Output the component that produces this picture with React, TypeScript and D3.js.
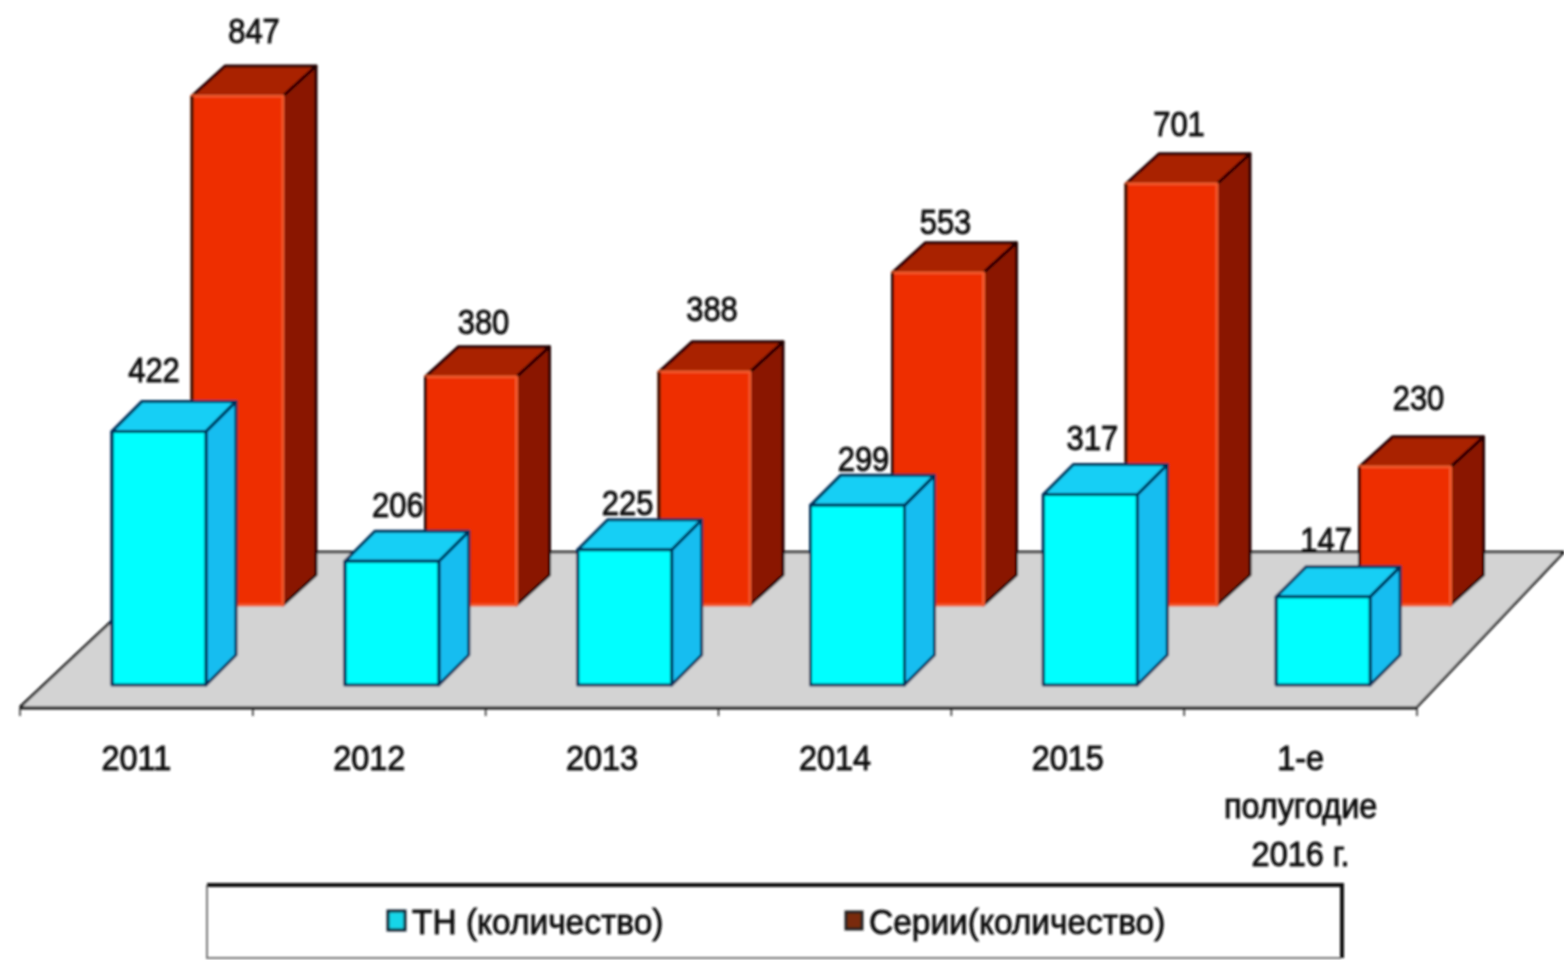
import React from 'react';
import * as d3 from 'd3';

const categories = ['2011', '2012', '2013', '2014', '2015', '1-е полугодие 2016 г.'];
const categoryLines = [['2011'], ['2012'], ['2013'], ['2014'], ['2015'], ['1-е', 'полугодие', '2016 г.']];
const thValues = [422, 206, 225, 299, 317, 147];
const seriesValues = [847, 380, 388, 553, 701, 230];
const legendLabels = ['ТН (количество)', 'Серии(количество)'];

// hand tweaks for the value labels, they don't sit evenly over the bars
const thLabelShift = [-5, 6, 3, 6, 2, 3];
const thLabelLift = [19, 14, 5, 4, 15, 15];
const seriesLabelShift = [7, 3, -2, -2, -2, 4];
const seriesLabelLift = [23, 13, 21, 9, 18, 27];

const W = 1564;
const H = 960;
const FONT = '"Liberation Sans", Arial, sans-serif';

const x = d3.scaleBand().domain(categories).range([20, 1417]);
// back row drifts slightly wider than the front one
const xBack = d3.scaleBand().domain(categories).range([20, 1421]);
const y = d3.scaleLinear().domain([0, 847]).range([0, 509]);

const pts = (p: number[][]) => p.map((d) => d.join(',')).join(' ');

type BoxProps = {
  left: number; base: number; w: number; h: number; dx: number; dy: number;
  front: string; side: string; top: string; stroke: string; frontStroke: string;
};

const Box = ({ left, base, w, h, dx, dy, front, side, top, stroke, frontStroke }: BoxProps) => {
  const t = base - h;
  return (
    <g stroke={stroke} strokeWidth={3} strokeLinejoin="round">
      <polygon points={pts([[left + w, base], [left + w + dx, base - dy], [left + w + dx, t - dy], [left + w, t]])} fill={side} />
      <polygon points={pts([[left, t], [left + dx, t - dy], [left + w + dx, t - dy], [left + w, t]])} fill={top} />
      <rect x={left} y={t} width={w} height={h} fill={front} stroke={frontStroke} />
      <line x1={left} x2={left} y1={t} y2={base} />
    </g>
  );
};

// squeezed text, the original labels are tall and narrow
const Squeezed = ({ x: tx, y: ty, sx, anchor, children }: any) => (
  <text transform={`translate(${tx},${ty}) scale(${sx},1)`} textAnchor={anchor}>{children}</text>
);

export default function App() {
  const step = x.step();
  const ticks = d3.range(categories.length + 1).map((i) => 20 + i * step);
  return (
    <svg width={W} height={H} style={{ position: 'absolute', left: 0, top: 0, background: '#fff' }} fontFamily={FONT}>
      <defs>
        <filter id="soft" x="-5%" y="-5%" width="110%" height="110%">
          <feGaussianBlur stdDeviation="1" />
        </filter>
      </defs>
      <g filter="url(#soft)">
        {/* floor */}
        <polygon points={pts([[20, 707], [1417, 707], [1564, 552], [185, 552]])} fill="#d3d3d3" stroke="none" />
        <path d="M185,552H1564M20,707L185,552M1417,707L1564,552" fill="none" stroke="#111" strokeWidth={2.5} />
        <line x1={20} x2={1417} y1={708} y2={708} stroke="#111" strokeWidth={3} />
        {ticks.map((t) => (
          <line key={t} x1={t} x2={t} y1={707} y2={716} stroke="#222" strokeWidth={1.5} />
        ))}

        {/* bars */}
        {categories.map((c, i) => (
          <Box key={c} left={xBack(c)! + 172} base={605} w={91} h={y(seriesValues[i])} dx={33} dy={30}
            front="#ee2e00" side="#8a1500" top="#a92000" stroke="#220400" frontStroke="#f2582a" />
        ))}
        {categories.map((c, i) => (
          <Box key={c} left={x(c)! + 92} base={685} w={94} h={y(thValues[i])} dx={30} dy={30}
            front="#00ffff" side="#12bdf0" top="#18cff5" stroke="#03305a" frontStroke="#03305a" />
        ))}

        {/* value labels */}
        <g fontSize={36} fill="#111" stroke="#111" strokeWidth={1}>
          {categories.map((c, i) => (
            <Squeezed key={c} x={xBack(c)! + 172 + 55 + seriesLabelShift[i]} y={605 - y(seriesValues[i]) - 30 - seriesLabelLift[i]} sx={0.86} anchor="middle">
              {seriesValues[i]}
            </Squeezed>
          ))}
          {categories.map((c, i) => (
            <Squeezed key={c} x={x(c)! + 92 + 47 + thLabelShift[i]} y={685 - y(thValues[i]) - 30 - thLabelLift[i]} sx={0.86} anchor="middle">
              {thValues[i]}
            </Squeezed>
          ))}
        </g>

        {/* category labels */}
        <g fontSize={36} fill="#111" stroke="#111" strokeWidth={1}>
          {categories.map((c, i) =>
            categoryLines[i].map((line, j) => (
              <Squeezed key={line} x={x(c)! + x.bandwidth() / 2} y={770 + j * 48} sx={0.9} anchor="middle">{line}</Squeezed>
            ))
          )}
        </g>

        {/* legend */}
        <g>
          <path d="M207,885V958H1341" fill="none" stroke="#777" strokeWidth={2} />
          <path d="M207,885H1342V958" fill="none" stroke="#111" strokeWidth={4} />
          <rect x={388} y={911} width={17} height={19} fill="#19d5e8" stroke="#123" strokeWidth={3} />
          <rect x={846} y={912} width={16} height={17} fill="#7a2a10" stroke="#222" strokeWidth={3} />
          <g fontSize={36} fill="#111" stroke="#111" strokeWidth={0.9}>
            <Squeezed x={412} y={934} sx={0.93} anchor="start">{legendLabels[0]}</Squeezed>
            <Squeezed x={869} y={934} sx={0.93} anchor="start">{legendLabels[1]}</Squeezed>
          </g>
        </g>
      </g>
    </svg>
  );
}
